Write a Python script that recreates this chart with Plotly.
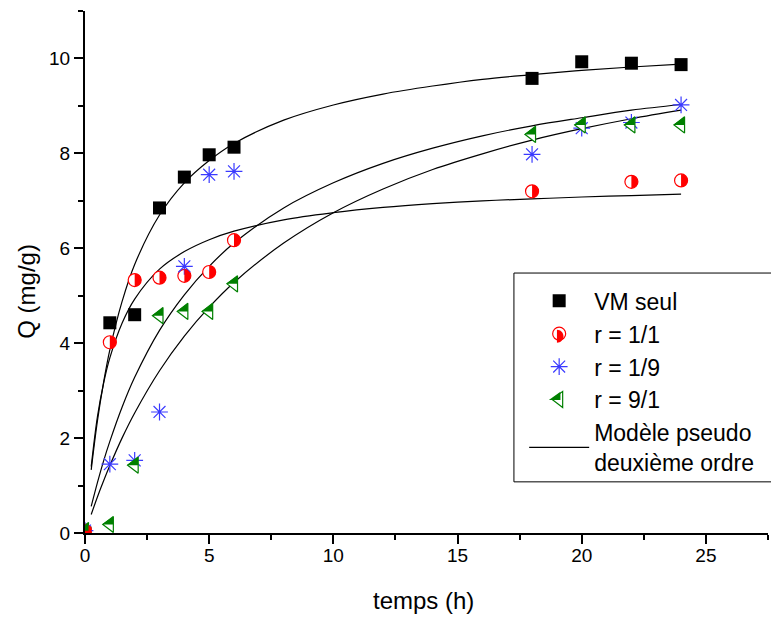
import plotly.graph_objects as go

# ---- data ----
t_pts = [0, 1, 2, 3, 4, 5, 6, 18, 20, 22, 24]
q_vm = [0.0, 4.43, 4.60, 6.85, 7.50, 7.97, 8.13, 9.58, 9.93, 9.90, 9.87]
t_r11 = [0, 1, 2, 3, 4, 5, 6, 18, 22, 24]
q_r11 = [0.05, 4.02, 5.33, 5.38, 5.42, 5.50, 6.17, 7.20, 7.40, 7.43]
q_r19 = [0.05, 1.45, 1.53, 2.55, 5.62, 7.55, 7.62, 7.98, 8.53, 8.65, 9.02]
q_r91 = [0.05, 0.18, 1.43, 4.58, 4.67, 4.67, 5.25, 8.40, 8.60, 8.60, 8.60]

# model curves (pseudo second order)
t_fit = [0.25, 0.5, 0.75, 1, 1.5, 2, 3, 4, 5, 6, 8, 10, 12, 14, 16, 18, 20, 22, 24]
fit_vm = [1.33, 2.36, 3.18, 3.86, 4.89, 5.66, 6.70, 7.38, 7.85, 8.21, 8.70, 9.02, 9.25, 9.42, 9.56, 9.66, 9.75, 9.82, 9.88]
fit_r11 = [1.40, 2.45, 3.16, 3.69, 4.43, 4.93, 5.56, 5.93, 6.18, 6.36, 6.60, 6.75, 6.86, 6.94, 7.00, 7.04, 7.08, 7.11, 7.14]
fit_r19 = [0.56, 1.06, 1.52, 1.93, 2.66, 3.28, 4.27, 5.02, 5.62, 6.11, 6.85, 7.38, 7.79, 8.11, 8.37, 8.58, 8.75, 8.91, 9.03]
fit_r91 = [0.39, 0.76, 1.10, 1.42, 2.01, 2.53, 3.42, 4.15, 4.76, 5.28, 6.11, 6.75, 7.25, 7.66, 7.99, 8.28, 8.52, 8.73, 8.91]

names = ["VM seul", "r = 1/1", "r = 1/9", "r = 9/1", "Modèle pseudo<br>deuxième ordre"]
x_title = "temps (h)"
y_title = "Q (mg/g)"

FONT = "Liberation Sans, Arial, sans-serif"
RED = "#ff0000"
BLUE = "#3a3aff"
GREEN = "#008000"
CLEAR = "rgba(0,0,0,0)"

fig = go.Figure()

# fitted curves (drawn first, below the markers)
for i, yy in enumerate([fit_vm, fit_r11, fit_r19, fit_r91]):
    fig.add_trace(go.Scatter(
        x=t_fit, y=yy, mode="lines", line=dict(color="black", width=1.2, shape="spline"),
        name=names[4], showlegend=(i == 0), legendrank=5,
    ))

fig.add_trace(go.Scatter(
    x=t_pts, y=q_vm, mode="markers", name=names[0], legendrank=1,
    marker=dict(symbol="square", size=13, color="black", line=dict(width=0)),
))
fig.add_trace(go.Scatter(
    x=t_r11, y=q_r11, mode="markers", name=names[1], showlegend=False,
    marker=dict(symbol="circle", size=13, color="white", line=dict(color=RED, width=1.2)),
))
fig.add_trace(go.Scatter(
    x=t_pts, y=q_r19, mode="markers", name=names[2], legendrank=3,
    marker=dict(symbol="asterisk-open", size=14, color=BLUE, line=dict(color=BLUE, width=1.2)),
))
fig.add_trace(go.Scatter(
    x=t_pts, y=q_r91, mode="markers", name=names[3], showlegend=False,
    marker=dict(symbol="triangle-left", size=14, color="white", line=dict(color=GREEN, width=1.2)),
))
# legend entries for the half-filled symbols (transparent body, half fill drawn below)
fig.add_trace(go.Scatter(
    x=[None], y=[None], mode="markers", name=names[1], legendrank=2,
    marker=dict(symbol="circle", size=13, color=CLEAR, line=dict(color=RED, width=1.2)),
))
fig.add_trace(go.Scatter(
    x=[None], y=[None], mode="markers", name=names[3], legendrank=4,
    marker=dict(symbol="triangle-left", size=14, color=CLEAR, line=dict(color=GREEN, width=1.2)),
))

# half fills of the markers (pixel-sized shapes anchored at the data points)
rc = 6.5
k = 0.5523 * rc
half_circle = (f"M0,{-rc} C{k},{-rc} {rc},{-k} {rc},0 C{rc},{k} {k},{rc} 0,{rc} Z")
rr = 7.0
rt = rr * 2 / 3 ** 0.5
r2 = rr / 2
half_tri = f"M{-rt},0 L{r2},{rt} L{r2},0 Z"

shapes = []
# legend frame (runs past the right edge as in the original)
shapes.append(dict(type="rect", xref="paper", yref="paper", x0=0.628, x1=1.02, y0=0.098, y1=0.498,
                   fillcolor="white", line=dict(color="black", width=1), layer="above"))
for tx, qy in zip(t_r11, q_r11):
    shapes.append(dict(type="path", xref="x", yref="y", xsizemode="pixel", ysizemode="pixel",
                       xanchor=tx, yanchor=qy, path=half_circle, fillcolor=RED,
                       line=dict(width=0), layer="above"))
for tx, qy in zip(t_pts, q_r91):
    shapes.append(dict(type="path", xref="x", yref="y", xsizemode="pixel", ysizemode="pixel",
                       xanchor=tx, yanchor=qy, path=half_tri, fillcolor=GREEN,
                       line=dict(width=0), layer="above"))
# half fills of the legend symbols
shapes.append(dict(type="path", xref="paper", yref="paper", xsizemode="pixel", ysizemode="pixel",
                   xanchor=0.691, yanchor=0.377, path=half_circle, fillcolor=RED,
                   line=dict(width=0), layer="above"))
shapes.append(dict(type="path", xref="paper", yref="paper", xsizemode="pixel", ysizemode="pixel",
                   xanchor=0.691, yanchor=0.255, path=half_tri, fillcolor=GREEN,
                   line=dict(width=0), layer="above"))

fig.update_layout(
    width=771, height=617,
    margin=dict(l=85, r=3, t=11, b=84),
    paper_bgcolor="white", plot_bgcolor="white",
    font=dict(family=FONT, color="black", size=19),
    shapes=shapes,
    legend=dict(
        x=0.643, y=0.486, xanchor="left", yanchor="top",
        bgcolor="rgba(0,0,0,0)", borderwidth=0,
        font=dict(family=FONT, size=23, color="black"),
        itemwidth=60, tracegroupgap=0,
    ),
    xaxis=dict(
        range=[0, 27.5], showgrid=False, zeroline=False,
        showline=True, linecolor="black", linewidth=2,
        ticks="outside", ticklen=9, tickwidth=2, tickcolor="black",
        tick0=0, dtick=5, tickfont=dict(size=19), ticklabelstandoff=-5,
        minor=dict(ticks="outside", ticklen=5, tickwidth=2, tickcolor="black", dtick=2.5, showgrid=False),
    ),
    yaxis=dict(
        range=[0, 11], showgrid=False, zeroline=False,
        showline=True, linecolor="black", linewidth=2,
        ticks="outside", ticklen=9, tickwidth=2, tickcolor="black",
        tick0=0, dtick=2, tickfont=dict(size=19),
        minor=dict(ticks="outside", ticklen=5, tickwidth=2, tickcolor="black", dtick=1, showgrid=False),
    ),
    annotations=[
        dict(text=x_title, xref="paper", yref="paper", x=0.496, y=-0.130, xanchor="center", yanchor="middle",
             showarrow=False, font=dict(family=FONT, size=24, color="black")),
        dict(text=y_title, xref="paper", yref="paper", x=-0.085, y=0.464, xanchor="center", yanchor="middle",
             textangle=-90, showarrow=False, font=dict(family=FONT, size=24, color="black")),
    ],
)

fig.write_html("out.html")
